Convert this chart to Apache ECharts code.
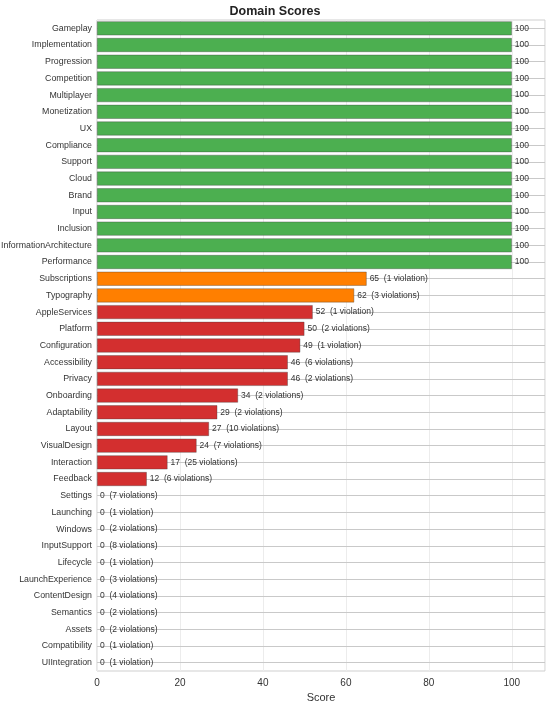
<!DOCTYPE html>
<html>
<head>
<meta charset="utf-8">
<script src="https://cdn.jsdelivr.net/npm/echarts@6/dist/echarts.min.js"></script>
<style>
  html, body { margin: 0; padding: 0; background: #fff; }
  #chart { width: 550px; height: 703px; }
</style>
</head>
<body>
<div id="chart"></div>
<script>
const domains = ['Gameplay', 'Implementation', 'Progression', 'Competition', 'Multiplayer',
    'Monetization', 'UX', 'Compliance', 'Support', 'Cloud', 'Brand', 'Input', 'Inclusion',
    'InformationArchitecture', 'Performance', 'Subscriptions', 'Typography', 'AppleServices',
    'Platform', 'Configuration', 'Accessibility', 'Privacy', 'Onboarding', 'Adaptability',
    'Layout', 'VisualDesign', 'Interaction', 'Feedback', 'Settings', 'Launching', 'Windows',
    'InputSupport', 'Lifecycle', 'LaunchExperience', 'ContentDesign', 'Semantics', 'Assets',
    'Compatibility', 'UIIntegration'];
const scores = [100, 100, 100, 100, 100, 100, 100, 100, 100, 100, 100, 100, 100, 100, 100,
    65, 62, 52, 50, 49, 46, 46, 34, 29, 27, 24, 17, 12,
    0, 0, 0, 0, 0, 0, 0, 0, 0, 0, 0];
const violations = [0, 0, 0, 0, 0, 0, 0, 0, 0, 0, 0, 0, 0, 0, 0,
    1, 3, 1, 2, 1, 6, 2, 2, 2, 10, 7, 25, 6,
    7, 1, 2, 8, 1, 3, 4, 2, 2, 1, 1];
const scoreTicks = [0, 20, 40, 60, 80, 100];

const font = '"Liberation Sans", Arial, sans-serif';

function barColor(s) {
    if (s >= 70) return '#4caf50';
    if (s >= 60) return '#ff7f00';
    return '#d32f2f';
}

let option = {
    animation: false,
    textStyle: { fontFamily: font },
    title: {
        text: 'Domain Scores',
        left: 'center',
        top: 0,
        textStyle: { fontSize: 12.5, fontWeight: 'bold', color: '#222', fontFamily: font },
    },
    grid: {
        left: 97,
        right: 5,
        top: 20,
        bottom: 32,
        outerBoundsMode: 'none',
        containLabel: false,
        show: true,
        borderColor: '#cfcfcf',
        borderWidth: 1,
    },
    xAxis: {
        type: 'value',
        min: 0,
        max: 108,
        interval: 20,
        name: 'Score',
        nameLocation: 'middle',
        nameGap: 21,
        nameTextStyle: { fontSize: 11, color: '#333', fontFamily: font },
        axisLine: { show: false },
        axisTick: { show: false },
        axisLabel: {
            fontSize: 10, color: '#333', margin: 7, fontFamily: font,
            formatter: (v) => scoreTicks.indexOf(v) >= 0 ? String(v) : '',
        },
        splitLine: { show: true, lineStyle: { color: '#ececec', width: 1 } },
    },
    yAxis: {
        type: 'category',
        data: domains,
        inverse: true,
        axisLine: { show: false },
        axisTick: { show: false },
        axisLabel: { fontSize: 8.8, color: '#333', margin: 5, fontFamily: font },
        splitLine: { show: false },
    },
    series: [
        {
            // row guide lines through the middle of each category
            type: 'line',
            data: scores.map(() => 0),
            symbol: 'none',
            lineStyle: { opacity: 0 },
            silent: true,
            z: 1,
            markLine: {
                silent: true,
                z: 1,
                symbol: 'none',
                label: { show: false },
                lineStyle: { color: '#c9c9c9', width: 1, type: 'solid' },
                data: domains.map((d) => ({ yAxis: d })),
            },
        },
        {
            type: 'bar',
            z: 3,
            barCategoryGap: '16%',
            data: scores.map((s) => ({
                value: s,
                itemStyle: { color: barColor(s), borderWidth: s > 0 ? 0.6 : 0 },
            })),
            itemStyle: { borderColor: 'rgba(60,60,60,0.6)' },
            label: {
                show: true,
                position: 'right',
                distance: 3,
                fontSize: 8.5,
                color: '#333',
                fontFamily: font,
                formatter: (p) => {
                    let v = violations[p.dataIndex];
                    if (!v) return String(p.value);
                    return p.value + '  (' + v + (v === 1 ? ' violation)' : ' violations)');
                },
            },
        },
    ],
};

let myChart = echarts.init(document.getElementById('chart'));
myChart.setOption(option);
</script>
</body>
</html>
